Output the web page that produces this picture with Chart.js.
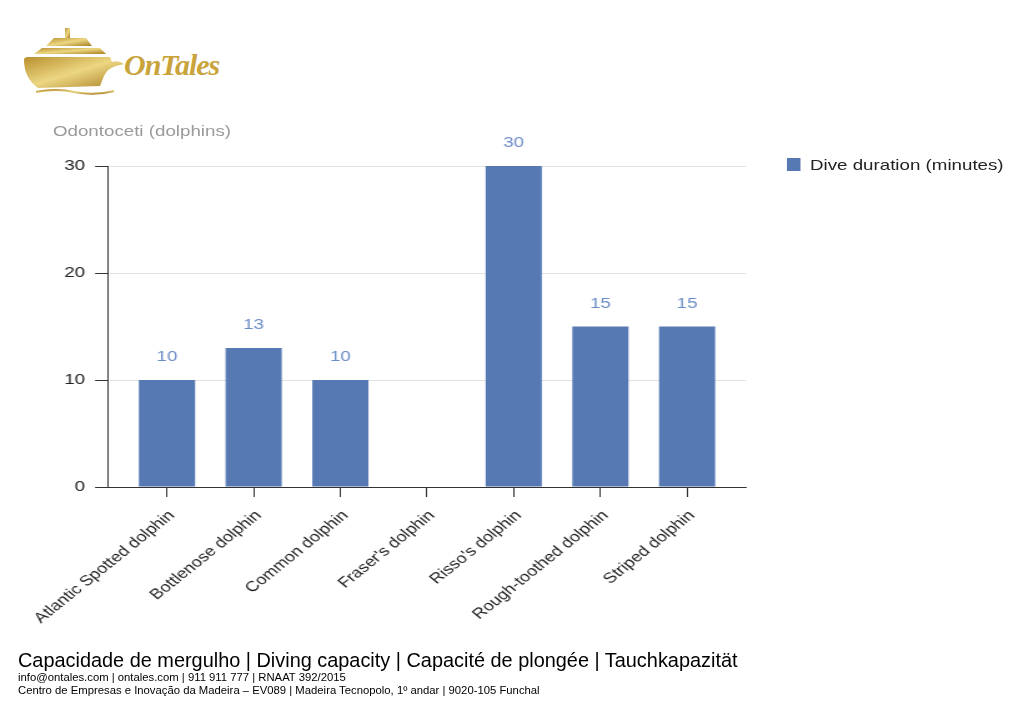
<!DOCTYPE html>
<html>
<head>
<meta charset="utf-8">
<script src="https://cdn.jsdelivr.net/npm/chart.js@4/dist/chart.umd.min.js"></script>
<style>
  html, body { margin:0; padding:0; background:#fff; }
  #wrap { position:relative; width:1024px; height:706px; overflow:hidden; font-family:"Liberation Sans", Arial, sans-serif; }
  #stretch { position:absolute; left:0; top:0; width:820px; height:706px; transform-origin:0 0; transform:scaleX(1.2488); }
  #c { position:absolute; left:0; top:0; }
  .abs { position:absolute; white-space:nowrap; }
  #axisTitle { left:42.4px; top:122px; font-size:15px; color:#9a9a9a; }
  #legBox { left:630.2px; top:158px; width:10.4px; height:13px; background:#5679b3; }
  #legText { left:648.6px; top:156px; font-size:15px; color:#222; }
  #f1 { left:18px; top:649px; font-size:19.9px; color:#000; }
  #f2 { left:18px; top:671px; font-size:11.3px; color:#000; }
  #f3 { left:18px; top:684px; font-size:11.3px; color:#000; }
  #logoText { left:124px; top:48px; font-family:"Liberation Serif", serif; font-style:italic; font-weight:bold; font-size:30px; color:#c9a43c; letter-spacing:-1px; }
</style>
</head>
<body>
<div id="wrap">
  <svg class="abs" style="left:20px;top:26px" width="106" height="70" viewBox="0 0 106 70">
    <defs>
      <linearGradient id="g" x1="0" y1="0" x2="1" y2="1">
        <stop offset="0" stop-color="#b8902e"/>
        <stop offset="0.5" stop-color="#ecd682"/>
        <stop offset="1" stop-color="#a87f22"/>
      </linearGradient>
    </defs>
    <rect x="45" y="2" width="5" height="10" fill="url(#g)"/>
    <path d="M26 20 L34 12 L66 12 L72 20 Z" fill="url(#g)"/>
    <path d="M14 28 L22 22 L80 22 L86 28 Z" fill="url(#g)"/>
    <path d="M4 34 Q4 31 8 31 L90 31 L92 36 Q98 34 104 38 L96 40 Q88 42 84 50 L80 60 L18 62 Q4 52 4 34 Z" fill="url(#g)"/>
    <path d="M16 66 Q36 62 54 66 Q74 70 94 65" stroke="url(#g)" stroke-width="2" fill="none"/>
  </svg>
  <div id="logoText" class="abs">OnTales</div>
  <div id="stretch">
    <canvas id="c" width="820" height="706"></canvas>
    <div id="axisTitle" class="abs"></div>
    <div id="legBox" class="abs"></div>
    <div id="legText" class="abs"></div>
  </div>
  <div id="f1" class="abs">Capacidade de mergulho | Diving capacity | Capacité de plongée | Tauchkapazität</div>
  <div id="f2" class="abs">info@ontales.com | ontales.com | 911 911 777 | RNAAT 392/2015</div>
  <div id="f3" class="abs">Centro de Empresas e Inovação da Madeira – EV089 | Madeira Tecnopolo, 1º andar | 9020-105 Funchal</div>
</div>
<script>
const categories = ["Atlantic Spotted dolphin","Bottlenose dolphin","Common dolphin","Fraser's dolphin","Risso's dolphin","Rough-toothed dolphin","Striped dolphin"];
const diveDuration = [10, 13, 10, null, 30, 15, 15];
const seriesLabel = "Dive duration (minutes)";
const axisTitle = "Odontoceti (dolphins)";
const yTicks = [0, 10, 20, 30];

document.getElementById('axisTitle').textContent = axisTitle;
document.getElementById('legText').textContent = seriesLabel;

const FONT = '"Liberation Sans", Arial, sans-serif';

const valueLabels = {
  id: 'valueLabels',
  afterDatasetsDraw(chart) {
    const ctx = chart.ctx;
    const meta = chart.getDatasetMeta(0);
    ctx.save();
    ctx.fillStyle = '#6b8cc7';
    ctx.font = '15px ' + FONT;
    ctx.textAlign = 'center';
    ctx.textBaseline = 'middle';
    meta.data.forEach((bar, i) => {
      const v = diveDuration[i];
      if (v === null || v === undefined) return;
      ctx.fillText(String(v), bar.x, bar.y - 23);
    });
    ctx.restore();
  }
};

new Chart(document.getElementById('c'), {
  type: 'bar',
  data: {
    datasets: [{
      label: seriesLabel,
      data: diveDuration.map((v, i) => ({x: i, y: v})),
      backgroundColor: '#5679b3',
      borderWidth: 0,
      categoryPercentage: 0.8,
      barPercentage: 0.81
    }]
  },
  options: {
    responsive: false,
    animation: false,
    devicePixelRatio: 1,
    layout: { padding: { left: 0, top: 166, right: 222.6, bottom: 69 } },
    plugins: { legend: { display: false }, tooltip: { enabled: false }, title: { display: false } },
    scales: {
      x: {
        type: 'linear',
        min: -0.68,
        max: 6.68,
        offset: false,
        afterBuildTicks: (s) => { s.ticks = categories.map((_, i) => ({ value: i })); },
        afterFit: (s) => { s.height = 150; },
        ticks: {
          autoSkip: false,
          minRotation: 45,
          maxRotation: 45,
          padding: 10,
          labelOffset: 4,
          color: '#222',
          font: { family: FONT, size: 14.5 },
          callback: (v) => categories[v] ?? ''
        },
        grid: { display: true, offset: false, drawOnChartArea: false, drawTicks: true, tickLength: 10, tickColor: '#333' },
        border: { display: true, color: '#333', width: 1 }
      },
      y: {
        min: 0,
        max: 30,
        afterBuildTicks: (s) => { s.ticks = yTicks.map(v => ({ value: v })); },
        afterFit: (s) => { s.width = 86.5; },
        ticks: {
          padding: 8,
          color: '#222',
          font: { family: FONT, size: 15 }
        },
        grid: { color: '#e2e2e2', tickColor: '#333', tickLength: 10.4, lineWidth: 1 },
        border: { display: true, color: '#333', width: 1 }
      }
    }
  },
  plugins: [valueLabels]
});
</script>
</body>
</html>
